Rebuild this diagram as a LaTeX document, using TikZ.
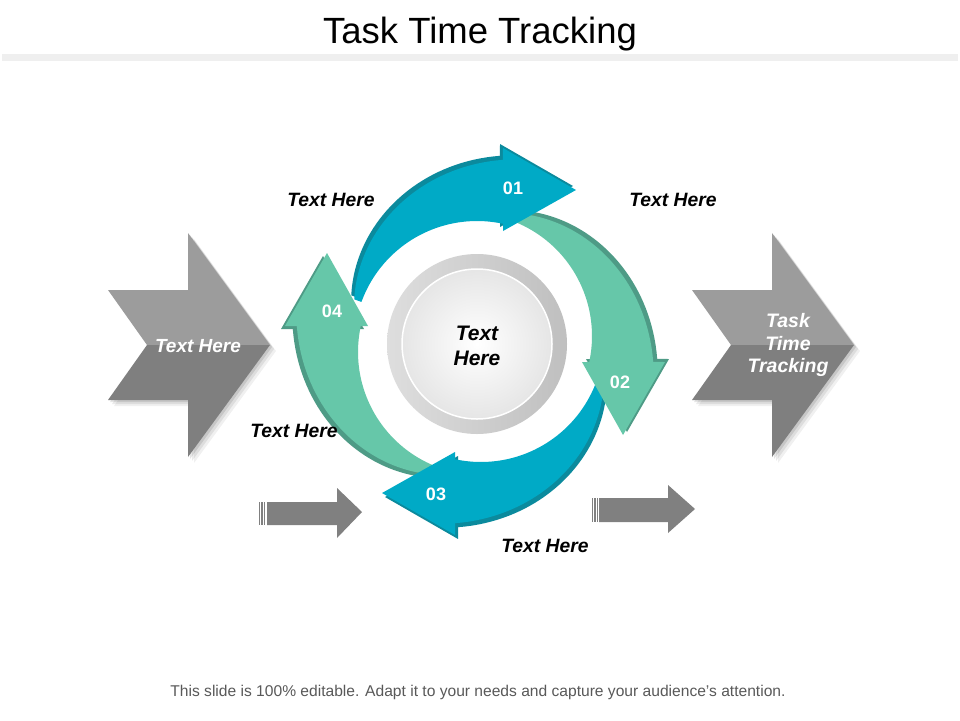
\documentclass[tikz,border=0pt]{standalone}
\usepackage{fontspec}
\setmainfont{Liberation Sans}
\usetikzlibrary{calc}
\definecolor{cblue}{HTML}{00AAC6}
\definecolor{cbluedk}{HTML}{0B8A9D}
\definecolor{cgreen}{HTML}{66C7A9}
\definecolor{cgreendk}{HTML}{4E9B86}
\definecolor{chevtop}{HTML}{9C9C9C}
\definecolor{chevbot}{HTML}{7F7F7F}
\definecolor{smallarr}{HTML}{808080}
\definecolor{notegray}{HTML}{595959}
\definecolor{barcol}{HTML}{EFEFEF}
\newcommand\CycArrow[4]{%
  \pgfmathsetmacro\CAta{-160+#2}%
  \pgfmathsetmacro\CAth{-82+#2}%
  \pgfmathsetmacro\CAti{-77.8+#2}%
  \pgfmathsetmacro\CAba{-82.44+#2}%
  \pgfmathsetmacro\CAtp{-57.27+#2}%
  \pgfmathsetmacro\CAbb{-77.04+#2}%
  \pgfmathsetmacro\CAsd{-126.87+#2}%
  \fill[#4,shift={(#1)},shift={(\CAsd:5)}] plot[domain=\CAta:\CAth,samples=40] (\x:{186-0.71*(\CAth-\x)}) -- (\CAba:197.7) -- (\CAtp:183.1) -- (\CAbb:115.95) -- plot[domain=\CAti:\CAta,samples=40] (\x:123) -- cycle;
  \fill[#3,shift={(#1)}] plot[domain=\CAta:\CAth,samples=40] (\x:{186-0.71*(\CAth-\x)}) -- (\CAba:197.7) -- (\CAtp:183.1) -- (\CAbb:115.95) -- plot[domain=\CAti:\CAta,samples=40] (\x:123) -- cycle;
}
\tikzset{
  lbl/.style={font=\fontsize{19.3}{23}\selectfont\bfseries\itshape, text=black, inner sep=0pt},
  wlbl/.style={font=\fontsize{19}{22.5}\selectfont\bfseries\itshape, text=white, inner sep=0pt, align=center},
  num/.style={font=\fontsize{18}{20}\selectfont\bfseries, text=white, inner sep=0pt},
}
\begin{document}
\begin{tikzpicture}[x=1pt,y=-1pt]
\useasboundingbox (0,0) rectangle (960,720);
\fill[white] (0,0) rectangle (960,720);
% title and bar
\node[anchor=base, font=\fontsize{36.5}{40}\selectfont, inner sep=0pt] (title) at (480,43) {Task Time Tracking};
\fill[barcol] (2,54) rectangle (958,61);
% centers
\coordinate (c0) at (477,344);
\coordinate (c1) at (477,344);
\coordinate (c2) at (469,336);
\coordinate (c3) at (481,339);
\coordinate (c4) at (481,352);
% cycle arrows
\CycArrow{c4}{270}{cgreen}{cgreendk}
\CycArrow{c3}{180}{cblue}{cbluedk}
\CycArrow{c2}{90}{cgreen}{cgreendk}
\CycArrow{c1}{0}{cblue}{cbluedk}
% center circle
\shade[shading angle=135, left color=black!13, right color=black!25] (c0) circle (90);
\shade[inner color=white, outer color=black!10, draw=white, line width=1.5pt] (c0) circle (75);
\node[wlbl, text=black, font=\fontsize{21}{25}\selectfont\bfseries\itshape] (ctext) at (477,346) {Text\\Here};
% numbers
\node[num] (n1) at (513,188) {01};
\node[num] (n2) at (620,382) {02};
\node[num] (n3) at (436,494) {03};
\node[num] (n4) at (332,311) {04};
% chevrons with soft shadow
\foreach \dx/\op in {2/0.10,4/0.08,6/0.06}{
  \fill[black, opacity=\op, shift={(\dx,\dx)}] (108,290) -- (188,290) -- (188,233) -- (270,345) -- (188,457) -- (188,400) -- (108,400) -- (147,345) -- cycle;
  \fill[black, opacity=\op, shift={(584+\dx,\dx)}] (108,290) -- (188,290) -- (188,233) -- (270,345) -- (188,457) -- (188,400) -- (108,400) -- (147,345) -- cycle;
}
\fill[chevtop] (108,290) -- (188,290) -- (188,233) -- (270,345) -- (147,345) -- cycle;
\fill[chevbot] (147,345) -- (270,345) -- (188,457) -- (188,400) -- (108,400) -- cycle;
\begin{scope}[shift={(584,0)}]
\fill[chevtop] (108,290) -- (188,290) -- (188,233) -- (270,345) -- (147,345) -- cycle;
\fill[chevbot] (147,345) -- (270,345) -- (188,457) -- (188,400) -- (108,400) -- cycle;
\end{scope}
\node[wlbl] (lchev) at (198,346) {Text Here};
\node[wlbl, font=\fontsize{19.5}{22.5}\selectfont\bfseries\itshape] (rchev) at (788,345) {Task\\Time\\Tracking};
% small arrows
\fill[smallarr] (267,502) -- (337,502) -- (337,488) -- (362,512) -- (337,538) -- (337,525) -- (267,525) -- cycle;
\foreach \sx in {259.5,262,264.5}{\draw[smallarr, line width=1.2pt] (\sx,502) -- (\sx,525);}
\fill[smallarr] (599,498) -- (668,498) -- (668,485) -- (695,509) -- (668,533) -- (668,522) -- (599,522) -- cycle;
\foreach \sx in {592.5,595,597.5}{\draw[smallarr, line width=1.2pt] (\sx,498) -- (\sx,522);}
% labels
\node[lbl] (t1) at (331,200) {Text Here};
\node[lbl] (t2) at (673,200) {Text Here};
\node[lbl] (t3) at (294,431) {Text Here};
\node[lbl] (t4) at (545,546) {Text Here};
% note
\node[font=\fontsize{15.6}{18}\selectfont, text=notegray, inner sep=0pt] (note) at (478,692) {This slide is 100\% editable. Adapt it to your needs and capture your audience's attention.};
\end{tikzpicture}
\end{document}
